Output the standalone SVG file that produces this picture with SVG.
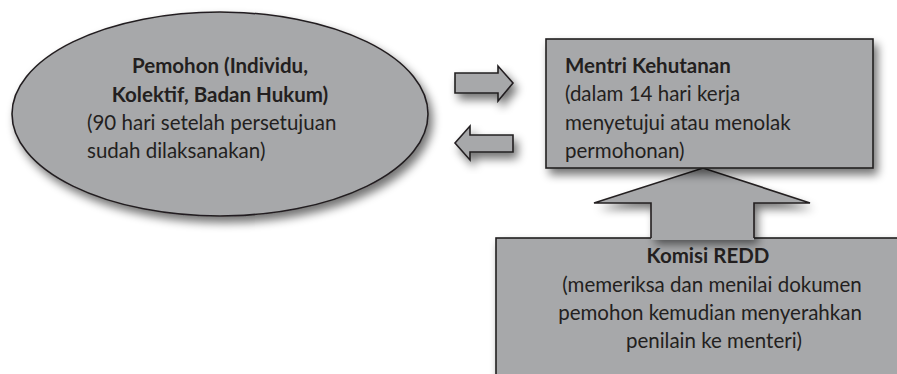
<svg xmlns="http://www.w3.org/2000/svg" width="897" height="374" viewBox="0 0 897 374">
<defs>
<filter id="sh" x="-20%" y="-20%" width="150%" height="160%">
<feGaussianBlur in="SourceAlpha" stdDeviation="5"/>
<feOffset dx="4" dy="6" result="b"/>
<feComponentTransfer><feFuncA type="linear" slope="0.55"/></feComponentTransfer>
<feMerge><feMergeNode/><feMergeNode in="SourceGraphic"/></feMerge>
</filter>
<style>
.shape{fill:#a7a8aa;stroke:#231f20;stroke-width:1.6;filter:url(#sh)}
.fillonly{fill:#a7a8aa;stroke:none}
.line{fill:none;stroke:#231f20;stroke-width:1.6}
text{font-family:Lato,"Liberation Sans",sans-serif;font-size:20.5px;fill:#231f20}
.b{font-weight:bold}
.c{text-anchor:middle}
</style>
</defs>
<rect width="897" height="374" fill="#ffffff"/>
<g id="pemohon">
<ellipse class="shape" cx="220" cy="114" rx="208" ry="102"/>
<text class="b c" x="220" y="73">Pemohon (Individu,</text>
<text class="b c" x="220" y="102">Kolektif, Badan Hukum)</text>
<text x="87" y="130">(90 hari setelah persetujuan</text>
<text x="87" y="158">sudah dilaksanakan)</text>
</g>
<g id="komisi">
<rect class="shape" x="496" y="238" width="420" height="160"/>
<text class="b c" x="708" y="263">Komisi REDD</text>
<text class="c" x="712" y="292">(memeriksa dan menilai dokumen</text>
<text class="c" x="710" y="320">pemohon kemudian menyerahkan</text>
<text class="c" x="714" y="348">penilain ke menteri)</text>
</g>
<g id="connectors">
<polygon class="shape" points="455,73 498,73 498,66 513,83 498,101 498,93 455,93"/>
<polygon class="shape" points="513,135 470,135 470,126 455,143 470,160 470,152 513,152"/>
<polygon class="shape" style="stroke:none" points="703,168 810,203 754,203 754,238 651,238 651,203 594,203"/>
<polygon class="fillonly" points="651,236 754,236 754,240 651,240"/>
<polyline class="line" points="651,238 651,203 594,203 703,168 810,203 754,203 754,238"/>
</g>
<g id="mentri">
<rect class="shape" x="546" y="39" width="327" height="129"/>
<text class="b" x="565" y="73">Mentri Kehutanan</text>
<text x="565" y="101">(dalam 14 hari kerja</text>
<text x="565" y="130">menyetujui atau menolak</text>
<text x="565" y="158">permohonan)</text>
</g>
</svg>
